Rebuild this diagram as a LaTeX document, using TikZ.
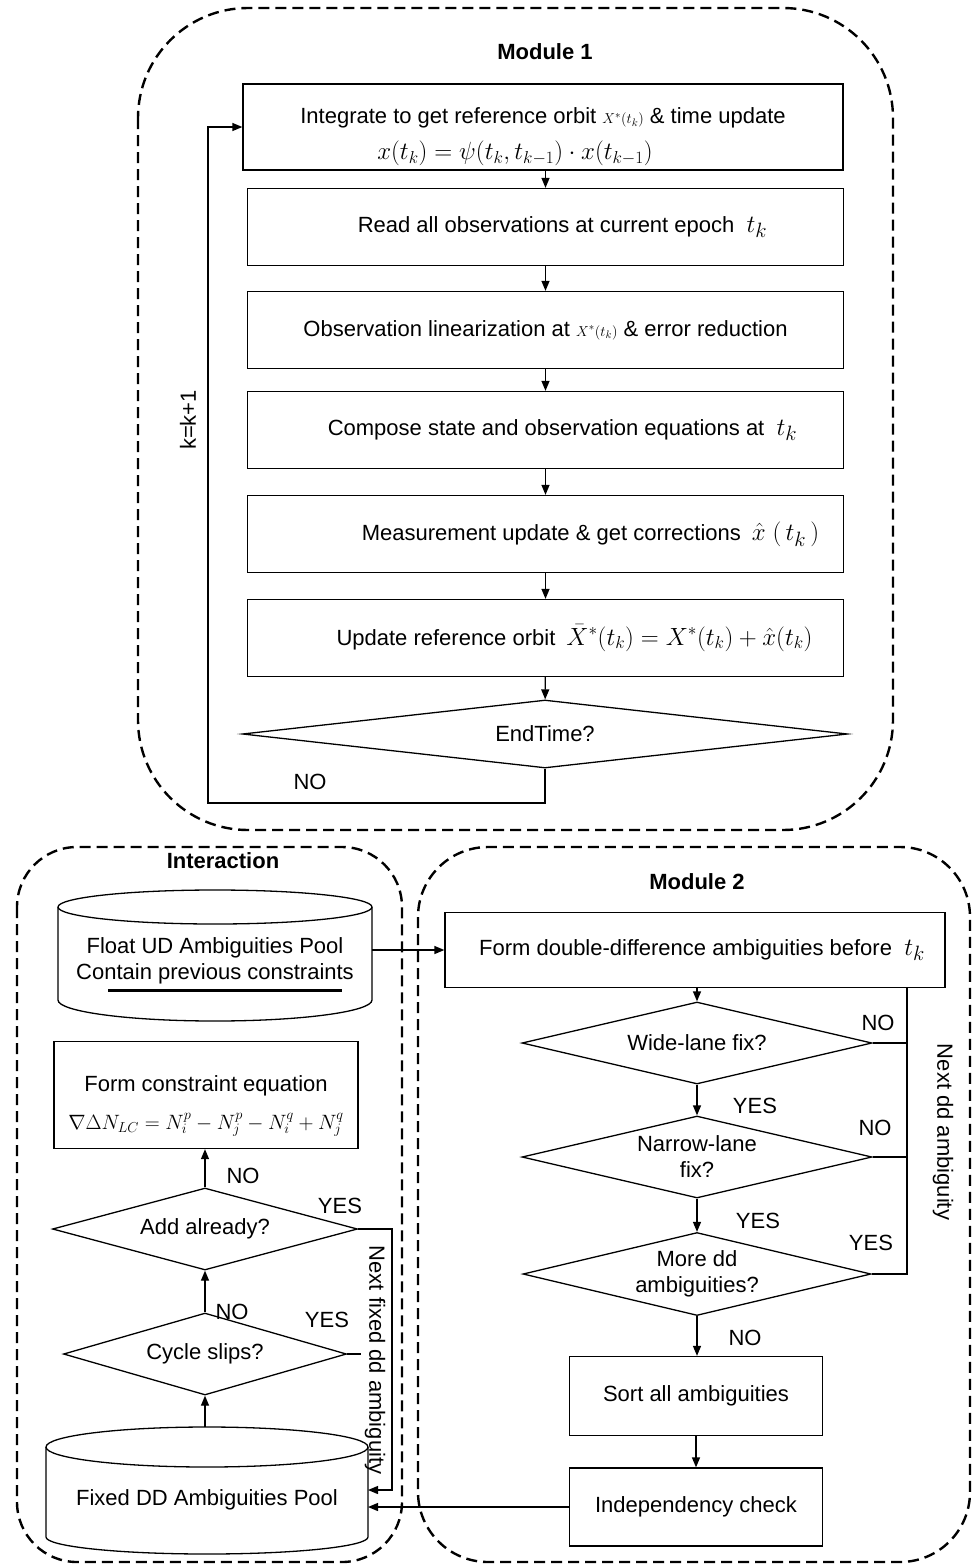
\documentclass[tikz,border=0pt]{standalone}
\usepackage{fontspec}
\setmainfont{Liberation Sans}
\usetikzlibrary{arrows.meta,shapes.geometric,calc}
\begin{document}
\begin{tikzpicture}[x=1pt,y=-1pt,
 every node/.style={font=\fontsize{22}{26}\selectfont, inner sep=0pt},
 dashbox/.style={draw, line width=2.4pt, dash pattern=on 11pt off 6pt},
 box/.style={draw, line width=1.3pt, minimum width=596pt, minimum height=77pt},
 dia/.style={draw, diamond, line width=1.3pt, aspect=4.2},
 ttl/.style={font=\bfseries\fontsize{22}{26}\selectfont},
 arr/.style={line width=1.3pt, -{Triangle[length=10pt,width=8pt]}},
 ln/.style={line width=1.3pt},
]
\useasboundingbox (0,0) rectangle (975,1564);

% ---------- dashed module frames ----------
\draw[dashbox, rounded corners=110pt] (138,8) rectangle (893,830);
\draw[dashbox, rounded corners=60pt] (17,847) rectangle (402,1562);
\draw[dashbox, rounded corners=70pt] (418,847) rectangle (970,1562);

% ---------- Module 1 ----------
\node[ttl] (m1t) at (545,52) {Module 1};
\node[box, minimum width=600pt, minimum height=86pt, align=center] (b1) at (543,127)
 {\rule{0pt}{36pt}Integrate to get reference orbit {\fontsize{15}{15}\selectfont$X^{*}(t_k)$} \& time update\\[10pt]
  \hspace*{-56pt}{\fontsize{25}{28}\selectfont$x(t_k)=\psi(t_k,t_{k-1})\cdot x(t_{k-1})$}};
\node[box] (b2) at (545.5,227) {\hspace*{34pt}Read all observations at current epoch \ {\fontsize{30}{30}\selectfont$t_k$}};
\node[box] (b3) at (545.5,330) {Observation linearization at {\fontsize{15}{15}\selectfont$X^{*}(t_k)$} \& error reduction};
\node[box] (b4) at (545.5,430) {\hspace*{34pt}Compose state and observation equations at \ {\fontsize{30}{30}\selectfont$t_k$}};
\node[box] (b5) at (545.5,534) {\hspace*{90pt}Measurement update \& get corrections\enskip {\fontsize{28}{30}\selectfont$\hat{x}\;(\,t_k\,)$}};
\node[box] (b6) at (545.5,638) {\hspace*{58pt}Update reference orbit\enskip {\fontsize{23}{26}\selectfont$\bar{X}^{*}(t_k)=X^{*}(t_k)+\hat{x}(t_k)$}};
\node[dia, minimum width=605pt, minimum height=68pt] (end) at (545,734) {EndTime?};

\draw[arr] (b2.north |- b1.south) -- (b2.north);
\draw[arr] (b2) -- (b3);
\draw[arr] (b3) -- (b4);
\draw[arr] (b4) -- (b5);
\draw[arr] (b5) -- (b6);
\draw[arr] (b6) -- (end);
\coordinate (lp) at (208,803);
\draw[arr] (end.south) |- (lp) |- (b1.west);
\node (no1) at (310,782) {NO};
\node[rotate=90] (kk) at (188,420) {k=k+1};

% ---------- Interaction ----------
\node[ttl] (it) at (223,861) {Interaction};
% float pool cylinder
\draw[ln] (215,907) ellipse [x radius=157pt, y radius=17pt];
\draw[ln] (58,907) -- (58,1000) arc[start angle=180, end angle=360, x radius=157pt, y radius=21pt] -- (372,907);
\node[align=center, minimum width=314pt] (fpool) at (215,961) {Float UD Ambiguities Pool\\Contain previous constraints};
\draw[line width=3pt] (108,990) -- (342,990);

\node[draw, line width=1.3pt, minimum width=304pt, minimum height=107pt, align=center] (cbox) at (206,1095)
 {\rule{0pt}{38pt}Form constraint equation\\[12pt]{\fontsize{21}{24}\selectfont$\nabla\Delta N_{LC}=N_i^p-N_j^p-N_i^q+N_j^q$}};
\node[dia, minimum width=305pt, minimum height=82pt] (add) at (205,1229) {Add already?};
\node[dia, minimum width=283pt, minimum height=82pt] (cyc) at (205,1354) {Cycle slips?};

% fixed pool cylinder
\draw[ln] (207,1447) ellipse [x radius=161pt, y radius=20pt];
\draw[ln] (46,1447) -- (46,1537) arc[start angle=180, end angle=360, x radius=161pt, y radius=17pt] -- (368,1447);
\node[minimum width=322pt, minimum height=110pt] (xpool) at (207,1500) {Fixed DD Ambiguities Pool};
\coordinate (xtop) at (205,1427);

\draw[arr] (xtop) -- (cyc.south);
\draw[arr] (cyc.north) -- (add.south);
\draw[arr] (add.north) -- (add.north |- cbox.south);
\coordinate (lr1) at (392,1229);
\coordinate (lr2) at (368,1490);
\draw[arr] (add.east) -- (lr1) |- (lr2);
\coordinate (cstub) at (361,1354);
\draw[ln] (cyc.east) -- (cstub);
\node (noa) at (243,1176) {NO};
\node (yesa) at (340,1206) {YES};
\node (noc) at (232,1312) {NO};
\node (yesc) at (327,1320) {YES};
\node[rotate=-90] (nfd) at (375,1360) {Next fixed dd ambiguity};

% ---------- Module 2 ----------
\node[ttl] (m2t) at (697,882) {Module 2};
\node[box, minimum width=500pt, minimum height=75pt] (m2b) at (695,950)
 {\hspace*{14pt}Form double-difference ambiguities before \ {\fontsize{30}{30}\selectfont$t_k$}};
\node[dia, minimum width=350pt, minimum height=82pt] (wl) at (697,1043) {Wide-lane fix?};
\node[dia, minimum width=350pt, minimum height=82pt, align=center] (nl) at (697,1157) {Narrow-lane\\fix?};
\node[dia, minimum width=348pt, minimum height=83pt, align=center] (md) at (697,1274) {More dd\\ambiguities?};
\node[box, minimum width=253pt, minimum height=79pt] (sort) at (696,1396) {Sort all ambiguities};
\node[box, minimum width=253pt, minimum height=78pt] (ind) at (696,1507) {Independency check};

\draw[arr] (wl.north |- m2b.south) -- (wl.north);
\draw[arr] (wl) -- (nl);
\draw[arr] (nl) -- (md);
\draw[arr] (md) -- (sort.north -| md.south);
\draw[arr] (sort) -- (ind);
\draw[arr] (ind.west) -- (ind.west -| lr2);
\coordinate (fpr) at (372,950);
\draw[arr] (fpr) -- (m2b.west);

\coordinate (rl) at (907,988);
\draw[ln] (rl) -- (rl |- md.east) -- (md.east);
\draw[ln] (wl.east) -- (wl.east -| rl);
\draw[ln] (nl.east) -- (nl.east -| rl);
\node (no2) at (878,1023) {NO};
\node (yes2) at (755,1106) {YES};
\node (no3) at (875,1128) {NO};
\node (yes3) at (758,1221) {YES};
\node (yes4) at (871,1243) {YES};
\node (no4) at (745,1338) {NO};
\node[rotate=-90] (ndd) at (943,1132) {Next dd ambiguity};
\end{tikzpicture}
\end{document}
